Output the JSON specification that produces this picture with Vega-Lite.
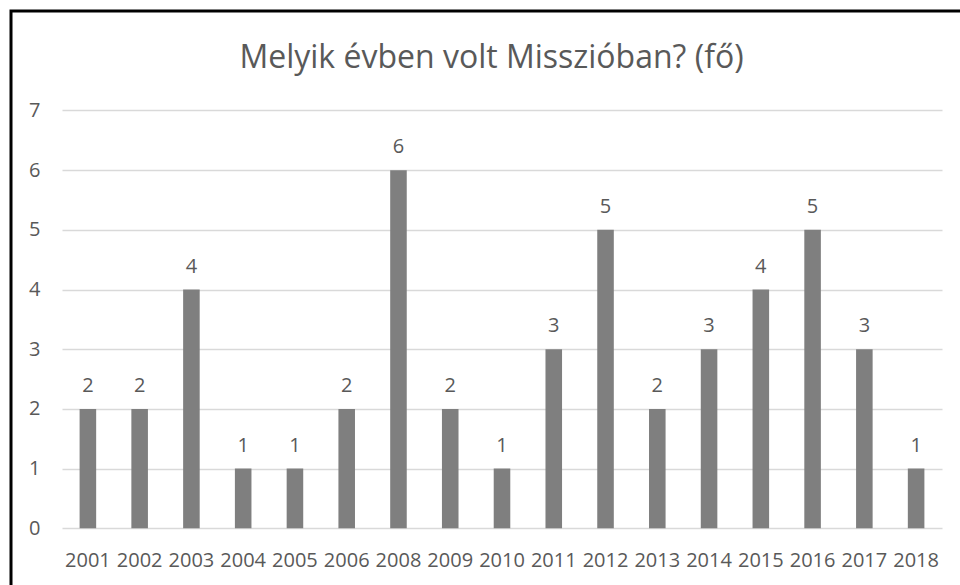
{
  "$schema": "https://vega.github.io/schema/vega-lite/v6.json",
  "autosize": {"type": "none"},
  "padding": {"left": 11, "top": 11, "right": 0, "bottom": 0},
  "width": 949,
  "height": 574,
  "background": "white",
  "title": {
    "text": "Melyik évben volt Misszióban? (fő)",
    "font": "Open Sans",
    "fontSize": 32,
    "fontWeight": "normal",
    "color": "#595959",
    "anchor": "middle",
    "baseline": "alphabetic",
    "offset": -89,
    "dx": 6
  },
  "data": {
    "values": [
      {"year": "2001", "count": 2},
      {"year": "2002", "count": 2},
      {"year": "2003", "count": 4},
      {"year": "2004", "count": 1},
      {"year": "2005", "count": 1},
      {"year": "2006", "count": 2},
      {"year": "2008", "count": 6},
      {"year": "2009", "count": 2},
      {"year": "2010", "count": 1},
      {"year": "2011", "count": 3},
      {"year": "2012", "count": 5},
      {"year": "2013", "count": 2},
      {"year": "2014", "count": 3},
      {"year": "2015", "count": 4},
      {"year": "2016", "count": 5},
      {"year": "2017", "count": 3},
      {"year": "2018", "count": 1}
    ]
  },
  "encoding": {
    "x": {
      "field": "year",
      "type": "nominal",
      "sort": null,
      "scale": {"range": [51, 931], "paddingInner": 0.68, "paddingOuter": 0.34},
      "axis": {
        "title": null,
        "labelAngle": 0,
        "domain": false,
        "ticks": false,
        "grid": false,
        "offset": -57,
        "labelPadding": 22,
        "labelFont": "Open Sans",
        "labelFontSize": 20,
        "labelColor": "#595959",
        "labelOverlap": false
      }
    },
    "y": {
      "field": "count",
      "type": "quantitative",
      "scale": {"domain": [-0.95, 8.667], "nice": false, "zero": false},
      "axis": {
        "title": null,
        "values": [0, 1, 2, 3, 4, 5, 6, 7],
        "domain": false,
        "ticks": false,
        "grid": true,
        "gridColor": "#d9d9d9",
        "gridWidth": 1.5,
        "offset": -51,
        "labelPadding": 22,
        "labelFont": "Open Sans",
        "labelFontSize": 20,
        "labelColor": "#595959"
      }
    }
  },
  "layer": [
    {
      "mark": {"type": "bar", "color": "#7f7f7f"},
      "encoding": {"y2": {"datum": 0}}
    },
    {
      "mark": {
        "type": "text",
        "baseline": "alphabetic",
        "dy": -17,
        "font": "Open Sans",
        "fontSize": 20,
        "color": "#595959"
      },
      "encoding": {"text": {"field": "count", "type": "quantitative"}}
    }
  ],
  "config": {
    "view": {
      "stroke": "#000000",
      "strokeWidth": 3,
      "strokeDash": [950, 1522, 574]
    }
  }
}
